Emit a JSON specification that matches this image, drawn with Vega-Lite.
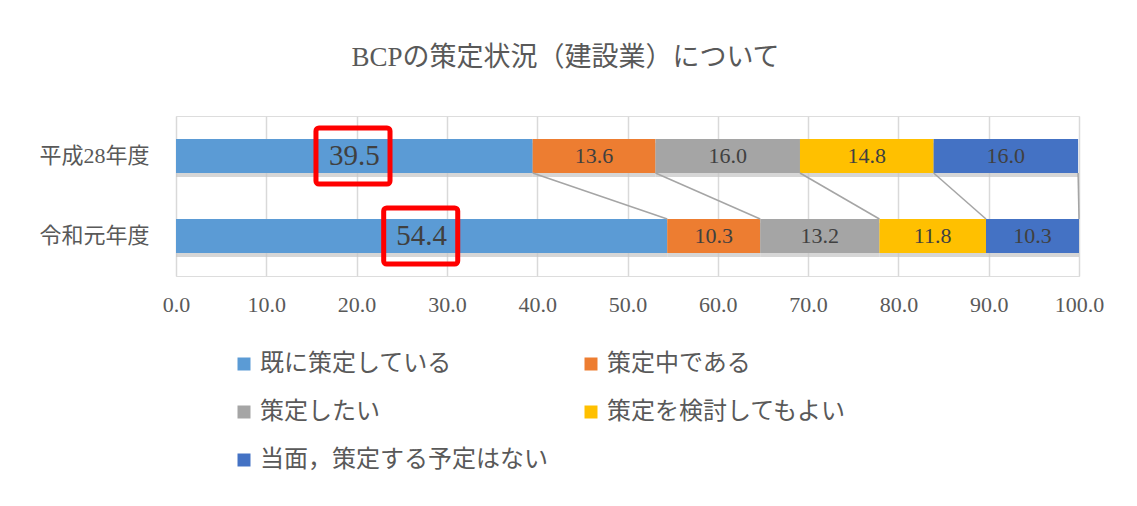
{
  "$schema": "https://vega.github.io/schema/vega-lite/v6.json",
  "width": 903,
  "height": 160,
  "autosize": {"type": "none"},
  "padding": {"left": 176, "top": 116, "right": 58, "bottom": 230},
  "background": "white",
  "datasets": {
    "bars": [
      {"year": "平成28年度", "s": "既に策定している", "i": 1, "v": 39.5},
      {"year": "平成28年度", "s": "策定中である", "i": 2, "v": 13.6},
      {"year": "平成28年度", "s": "策定したい", "i": 3, "v": 16.0},
      {"year": "平成28年度", "s": "策定を検討してもよい", "i": 4, "v": 14.8},
      {"year": "平成28年度", "s": "当面，策定する予定はない", "i": 5, "v": 16.0},
      {"year": "令和元年度", "s": "既に策定している", "i": 1, "v": 54.4},
      {"year": "令和元年度", "s": "策定中である", "i": 2, "v": 10.3},
      {"year": "令和元年度", "s": "策定したい", "i": 3, "v": 13.2},
      {"year": "令和元年度", "s": "策定を検討してもよい", "i": 4, "v": 11.8},
      {"year": "令和元年度", "s": "当面，策定する予定はない", "i": 5, "v": 10.3}
    ],
    "links": [
      {"y1": "平成28年度", "y2": "令和元年度", "a": 39.5, "b": 54.4},
      {"y1": "平成28年度", "y2": "令和元年度", "a": 53.1, "b": 64.7},
      {"y1": "平成28年度", "y2": "令和元年度", "a": 69.1, "b": 77.9},
      {"y1": "平成28年度", "y2": "令和元年度", "a": 83.9, "b": 89.7},
      {"y1": "平成28年度", "y2": "令和元年度", "a": 99.9, "b": 100.0}
    ],
    "boxes": [
      {"year": "平成28年度", "x1": 15.5, "x2": 23.7},
      {"year": "令和元年度", "x1": 23.0, "x2": 31.2}
    ]
  },
  "title": {
    "text": "BCPの策定状況（建設業）について",
    "anchor": "middle",
    "frame": "group",
    "dx": -62,
    "offset": 44,
    "fontSize": 27,
    "fontWeight": "normal",
    "color": "#595959",
    "font": "Liberation Serif, Noto Sans CJK JP"
  },
  "layer": [
    {
      "data": {"name": "bars"},
      "mark": {"type": "bar", "yOffset": 4, "color": "#c4c4c4", "opacity": 0.7},
      "encoding": {
        "y": {"field": "year", "type": "nominal", "scale": {"domain": ["平成28年度", "令和元年度"], "paddingInner": 0.575, "paddingOuter": 0.2875},
              "axis": {"title": null, "domain": false, "ticks": false, "labelFontSize": 22, "labelColor": "#595959", "labelPadding": 27, "labelFont": "Liberation Serif, Noto Sans CJK JP", "grid": false}},
        "x": {"field": "v", "type": "quantitative", "stack": "zero", "scale": {"domain": [0, 100], "nice": false},
              "axis": {"title": null, "values": [0, 10, 20, 30, 40, 50, 60, 70, 80, 90, 100], "format": ".1f", "grid": true, "gridColor": "#d9d9d9", "gridWidth": 1.5, "domain": false, "ticks": false, "labelFontSize": 22, "labelColor": "#595959", "labelPadding": 18, "labelFlush": false, "labelOverlap": false, "labelBound": false, "labelFont": "Liberation Serif, Noto Sans CJK JP"}},
        "detail": {"field": "s"},
        "order": {"field": "i", "type": "quantitative"}
      }
    },
    {
      "data": {"name": "bars"},
      "mark": {"type": "bar"},
      "encoding": {
        "y": {"field": "year", "type": "nominal"},
        "x": {"field": "v", "type": "quantitative", "stack": "zero"},
        "color": {
          "field": "s", "type": "nominal",
          "scale": {"domain": ["既に策定している", "策定中である", "策定したい", "策定を検討してもよい", "当面，策定する予定はない"],
                    "range": ["#5b9bd5", "#ed7d31", "#a5a5a5", "#ffc000", "#4472c4"]},
          "legend": {"title": null, "orient": "none", "direction": "horizontal", "legendX": 56, "legendY": 236, "columns": 2, "symbolType": "square", "symbolSize": 169, "symbolStrokeWidth": 0,
                     "labelFontSize": 24, "labelColor": "#595959", "labelFont": "Liberation Serif, Noto Sans CJK JP", "rowPadding": 24, "columnPadding": 31, "labelOffset": 4, "padding": 0, "labelLimit": 400}
        },
        "order": {"field": "i", "type": "quantitative"}
      }
    },
    {
      "data": {"name": "bars"},
      "mark": {"type": "text", "color": "#404040", "font": "Liberation Serif, Noto Sans CJK JP", "baseline": "middle", "align": "center"},
      "encoding": {
        "y": {"field": "year", "type": "nominal"},
        "x": {"field": "v", "type": "quantitative", "stack": "zero", "bandPosition": 0.5},
        "detail": {"field": "s"},
        "order": {"field": "i", "type": "quantitative"},
        "text": {"field": "v", "type": "quantitative", "format": ".1f"},
        "size": {"condition": {"test": "datum.s === '既に策定している'", "value": 29}, "value": 22}
      }
    },
    {
      "data": {"name": "links"},
      "mark": {"type": "rule", "color": "#a5a5a5", "strokeWidth": 1.5},
      "encoding": {
        "y": {"field": "y1", "type": "nominal", "bandPosition": 1},
        "y2": {"field": "y2", "bandPosition": 0},
        "x": {"field": "a", "type": "quantitative"},
        "x2": {"field": "b"}
      }
    },
    {
      "data": {"name": "boxes"},
      "mark": {"type": "bar", "height": 56, "fill": null, "fillOpacity": 0, "stroke": "#ff0000", "strokeWidth": 5, "cornerRadius": 3},
      "encoding": {
        "y": {"field": "year", "type": "nominal"},
        "x": {"field": "x1", "type": "quantitative"},
        "x2": {"field": "x2"}
      }
    }
  ]
}
